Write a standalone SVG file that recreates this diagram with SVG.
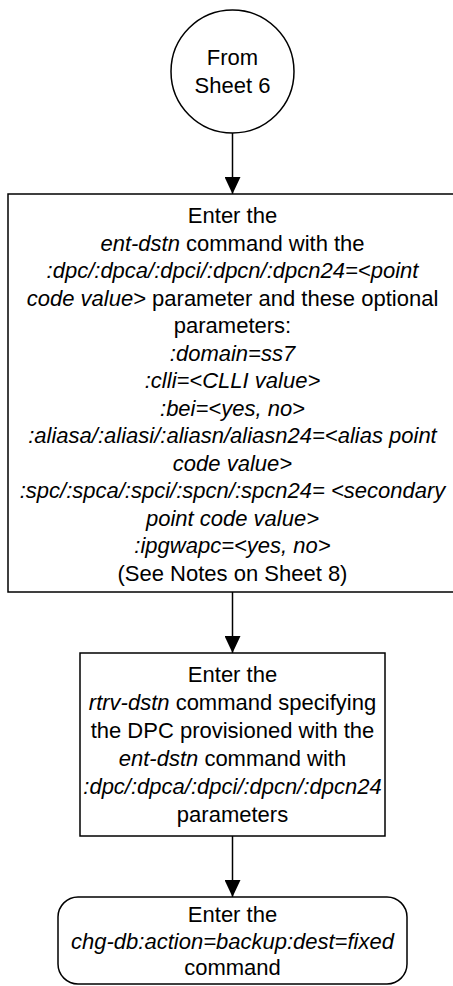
<svg xmlns="http://www.w3.org/2000/svg" width="453" height="986" viewBox="0 0 453 986">
<style>
.s{fill:#fff;stroke:#000;stroke-width:1.5}
.t{font-family:"Liberation Sans",Arial,sans-serif;font-size:22px;fill:#000;text-anchor:middle}
.i{font-style:italic}
.c{stroke:#000;stroke-width:1.5;fill:none}
</style>
<defs>
<marker id="ah" viewBox="0 0 17 16" refX="17" refY="8" markerWidth="17" markerHeight="16" markerUnits="userSpaceOnUse" orient="auto">
<path d="M0,0 L17,8 L0,16 z" fill="#000"/>
</marker>
</defs>
<g id="connectors">
<line class="c" x1="232.5" y1="133" x2="232.5" y2="194" marker-end="url(#ah)"/>
<line class="c" x1="232.5" y1="592" x2="232.5" y2="653" marker-end="url(#ah)"/>
<line class="c" x1="232.5" y1="836" x2="232.5" y2="897" marker-end="url(#ah)"/>
</g>
<g id="start">
<circle class="s" cx="232.5" cy="71.5" r="61.5"/>
<text class="t" x="232.5" y="65">From</text>
<text class="t" x="232.5" y="93">Sheet 6</text>
</g>
<g id="ent-dstn">
<rect class="s" x="8" y="194" width="449" height="398"/>
<text class="t" x="232.5" y="223">Enter the</text>
<text class="t" x="232.5" y="250.5"><tspan class="i">ent-dstn</tspan> command with the</text>
<text class="t i" x="232.5" y="278">:dpc/:dpca/:dpci/:dpcn/:dpcn24=&lt;point</text>
<text class="t" x="232.5" y="305.5"><tspan class="i">code value&gt;</tspan> parameter and these optional</text>
<text class="t" x="232.5" y="333">parameters:</text>
<text class="t i" x="232.5" y="360.5">:domain=ss7</text>
<text class="t i" x="232.5" y="388">:clli=&lt;CLLI value&gt;</text>
<text class="t i" x="232.5" y="415.5">:bei=&lt;yes, no&gt;</text>
<text class="t i" x="232.5" y="443">:aliasa/:aliasi/:aliasn/aliasn24=&lt;alias point</text>
<text class="t i" x="232.5" y="470.5">code value&gt;</text>
<text class="t i" x="232.5" y="498">:spc/:spca/:spci/:spcn/:spcn24= &lt;secondary</text>
<text class="t i" x="232.5" y="525.5">point code value&gt;</text>
<text class="t i" x="232.5" y="553">:ipgwapc=&lt;yes, no&gt;</text>
<text class="t" x="232.5" y="580.5">(See Notes on Sheet 8)</text>
</g>
<g id="rtrv-dstn">
<rect class="s" x="80" y="653" width="305" height="183"/>
<text class="t" x="232.5" y="682">Enter the</text>
<text class="t" x="232.5" y="710"><tspan class="i">rtrv-dstn</tspan> command specifying</text>
<text class="t" x="232.5" y="738">the DPC provisioned with the</text>
<text class="t" x="232.5" y="766"><tspan class="i">ent-dstn</tspan> command with</text>
<text class="t i" x="232.5" y="794">:dpc/:dpca/:dpci/:dpcn/:dpcn24</text>
<text class="t" x="232.5" y="822">parameters</text>
</g>
<g id="chg-db">
<rect class="s" x="58" y="897" width="349" height="87" rx="20" ry="20"/>
<text class="t" x="232.5" y="922">Enter the</text>
<text class="t i" x="232.5" y="948.5">chg-db:action=backup:dest=fixed</text>
<text class="t" x="232.5" y="975">command</text>
</g>
</svg>
